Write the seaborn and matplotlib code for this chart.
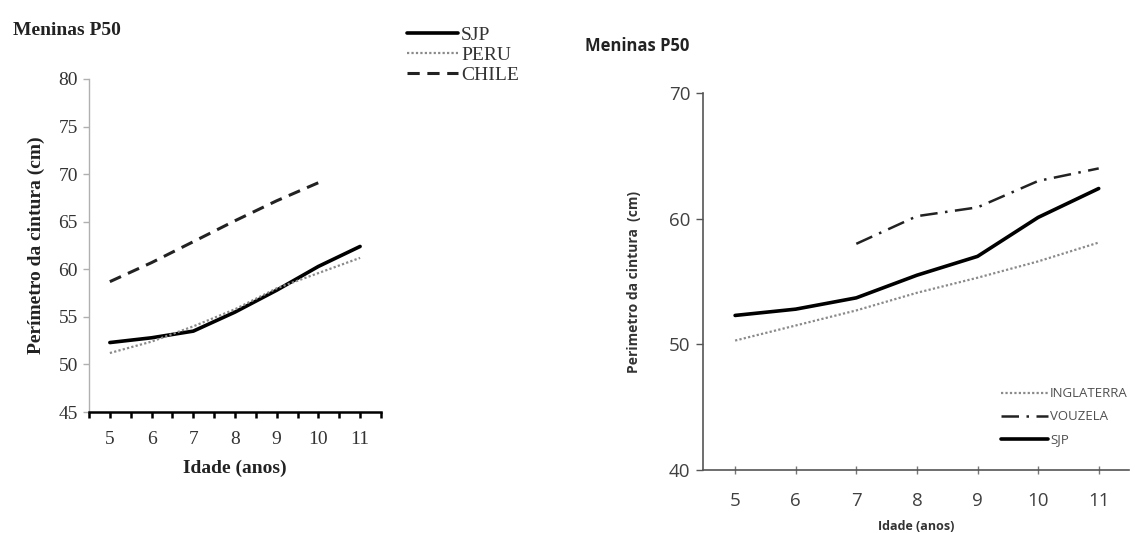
import numpy as np
import pandas as pd
import matplotlib
matplotlib.use("Agg")
import matplotlib.pyplot as plt
import seaborn as sns
from matplotlib.lines import Line2D

sns.set_style("white")

# ---- data ----
ages = [5, 6, 7, 8, 9, 10, 11]
sjp_left = [52.3, 52.8, 53.5, 55.5, 57.8, 60.3, 62.4]
peru = [51.2, 52.4, 54.0, 55.8, 58.0, 59.6, 61.2]
chile_ages = [5, 6, 7, 8, 9, 10]
chile = [58.7, 60.7, 62.9, 65.1, 67.2, 69.1]

sjp_right = [52.3, 52.8, 53.7, 55.5, 57.0, 60.1, 62.4]
inglaterra = [50.3, 51.5, 52.7, 54.1, 55.3, 56.6, 58.1]
vouzela_ages = [7, 8, 9, 10, 11]
vouzela = [58.0, 60.2, 60.9, 63.0, 64.0]

left_yticks = [45, 50, 55, 60, 65, 70, 75, 80]
right_yticks = [40, 50, 60, 70]
title = "Meninas P50"
ylabel_left = "Perímetro da cintura (cm)"
ylabel_right = "Perimetro da cintura  (cm)"
xlabel = "Idade (anos)"

fig = plt.figure(figsize=(11.44, 5.33), dpi=100)

serif = "Liberation Serif"
sans = "Open Sans"

# ---------------- left chart ----------------
axL = fig.add_axes([0.0778, 0.227, 0.2552, 0.6248])
sns.lineplot(x=ages, y=sjp_left, ax=axL, color="black", lw=2.6)
sns.lineplot(x=ages, y=peru, ax=axL, color="#8a8a8a", lw=1.6, linestyle=(0, (1, 1)))
sns.lineplot(x=chile_ages, y=chile, ax=axL, color="#222222", lw=2.2, linestyle=(0, (4, 2.5)))
axL.set_xlim(4.5, 11.5)
axL.set_ylim(45, 80)
axL.set_yticks(left_yticks)
axL.set_xticks(ages)
axL.set_xticks(np.arange(4.5, 12.0, 1.0), minor=True)
for s in ["top", "right"]:
    axL.spines[s].set_visible(False)
axL.spines["left"].set_color("#b0b0b0")
axL.spines["left"].set_linewidth(1.0)
axL.spines["bottom"].set_color("black")
axL.spines["bottom"].set_linewidth(1.8)
axL.tick_params(axis="y", which="major", direction="out", length=4, width=1, color="#b0b0b0",
                labelsize=14, labelcolor="#333333", pad=4, left=True)
axL.tick_params(axis="x", which="both", direction="out", length=4, width=1.8, color="black",
                labelsize=14, labelcolor="#333333", pad=10, bottom=True)
for lab in axL.get_xticklabels() + axL.get_yticklabels():
    lab.set_family(serif)
axL.set_xlabel(xlabel, family=serif, fontsize=14, fontweight="bold", color="#222222", labelpad=8)
axL.set_ylabel(ylabel_left, family=serif, fontsize=14, fontweight="bold", color="#222222", labelpad=10)
fig.text(0.011, 0.942, title, family=serif, fontsize=14, fontweight="bold", color="#222222",
         ha="left", va="center")

handlesL = [
    Line2D([], [], color="black", lw=2.6),
    Line2D([], [], color="#8a8a8a", lw=1.6, linestyle=(0, (1, 1))),
    Line2D([], [], color="#222222", lw=2.2, linestyle=(0, (4, 2.5))),
]
legL = fig.legend(handlesL, ["SJP", "PERU", "CHILE"], loc="upper left",
                  bbox_to_anchor=(0.346, 0.972), frameon=False, handlelength=2.6,
                  handletextpad=0.15, labelspacing=0.12, borderpad=0.1,
                  prop={"family": serif, "size": 14})
for t in legL.get_texts():
    t.set_color("#333333")

# ---------------- right chart ----------------
axR = fig.add_axes([0.6145, 0.1182, 0.3724, 0.7073])
sns.lineplot(x=ages, y=inglaterra, ax=axR, color="#8a8a8a", lw=1.6, linestyle=(0, (1, 1)))
sns.lineplot(x=vouzela_ages, y=vouzela, ax=axR, color="#222222", lw=1.8,
             linestyle=(0, (7, 3, 1, 3)))
sns.lineplot(x=ages, y=sjp_right, ax=axR, color="black", lw=2.6)
axR.set_xlim(4.47, 11.5)
axR.set_ylim(40, 70)
axR.set_yticks(right_yticks)
axR.set_xticks(ages)
for s in ["top", "right"]:
    axR.spines[s].set_visible(False)
for s in ["left", "bottom"]:
    axR.spines[s].set_color("#555555")
    axR.spines[s].set_linewidth(1.2)
axR.tick_params(axis="y", direction="out", length=5, width=1, color="#555555",
                labelsize=13.5, labelcolor="#404040", pad=4, left=True)
axR.tick_params(axis="x", direction="inout", length=6, width=1, color="#777777",
                labelsize=13.5, labelcolor="#404040", pad=13, bottom=True)
for lab in axR.get_xticklabels() + axR.get_yticklabels():
    lab.set_family(sans)
axR.set_xlabel(xlabel, family=sans, fontsize=9, fontweight="bold", color="#333333", labelpad=7)
axR.set_ylabel(ylabel_right, family=sans, fontsize=10, fontweight="bold", color="#333333", labelpad=20)
fig.text(0.511, 0.913, title, family=sans, fontsize=12, fontweight="bold", color="#222222",
         ha="left", va="center")

handlesR = [
    Line2D([], [], color="#8a8a8a", lw=1.6, linestyle=(0, (1, 1))),
    Line2D([], [], color="#222222", lw=1.8, linestyle=(0, (7, 3, 1, 3))),
    Line2D([], [], color="black", lw=2.6),
]
legR = axR.legend(handlesR, ["INGLATERRA", "VOUZELA", "SJP"], loc="upper left",
                  bbox_to_anchor=(0.68, 0.24), frameon=False, handlelength=3.6,
                  handletextpad=0.15, labelspacing=0.75, borderpad=0.1,
                  prop={"family": sans, "size": 9.5})
for t in legR.get_texts():
    t.set_color("#505050")

fig.savefig("out.png", dpi=100)
